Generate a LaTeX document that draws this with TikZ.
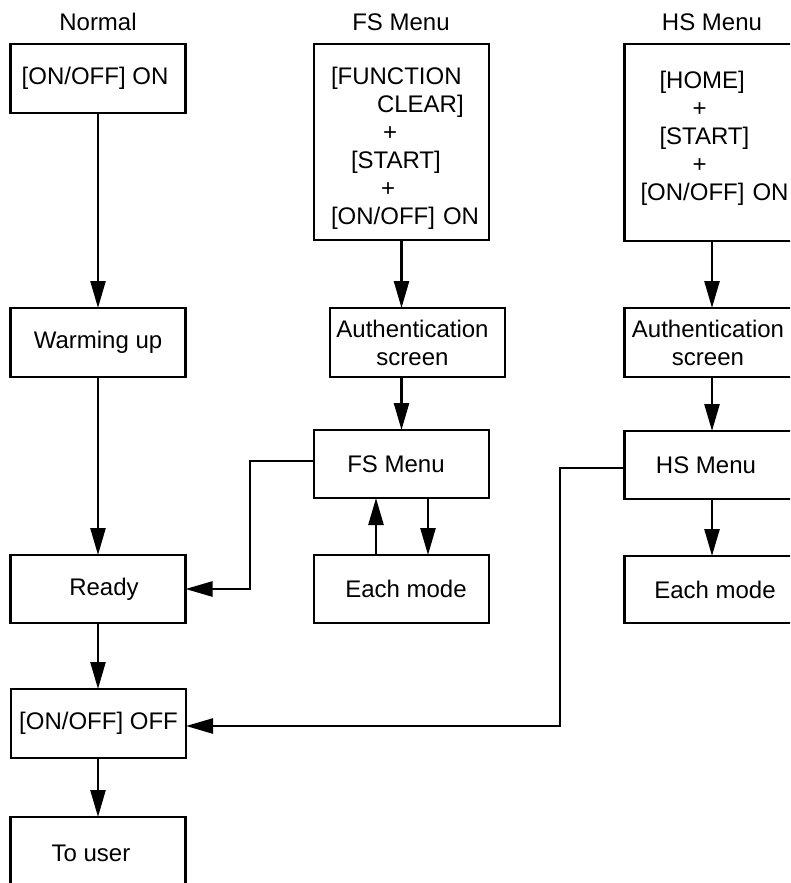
\documentclass[tikz,border=0pt]{standalone}
\usepackage{fontspec}
\setmainfont{Liberation Sans}
\usetikzlibrary{arrows.meta}
\begin{document}
\begin{tikzpicture}[x=1pt,y=-1pt,
  box/.style={draw, line width=2.5pt, inner sep=0pt, outer sep=0pt, minimum width=175pt, font=\fontsize{24}{28}\selectfont, align=center},
  txt/.style={inner sep=0pt, outer sep=0pt, text width=175pt, align=left, font=\fontsize{24}{28}\selectfont},
  lbl/.style={inner sep=0pt, font=\fontsize{24}{28}\selectfont},
  arr/.style={line width=2.5pt, -{Triangle[length=27pt,width=15pt]}}]
\useasboundingbox (0,0) rectangle (790,883);
\clip (0,0) rectangle (790,883);
% column labels
\node[lbl] (nlab) at (98,22) {Normal};
\node[lbl] (flab) at (401,22) {FS Menu};
\node[lbl] (hlab) at (712,22) {HS Menu};
% Normal column
\node[box, minimum height=69pt] (on) at (98,78.5) {[ON/OFF] ON\hspace*{6pt}};
\node[box, minimum height=69pt] (warm) at (98,342.5) {Warming up};
\node[box, minimum height=68pt] (ready) at (98,589) {\hspace*{12pt}Ready};
\node[box, minimum height=69pt] (off) at (98.5,723.5) {[ON/OFF] OFF};
\node[box, minimum height=72pt] (user) at (98,853) {To user\hspace*{14pt}};
% FS column
\node[box, minimum height=196pt] (fsbox) at (401.5,142) {};
\node[txt] (fstext) at (401.5,148) {\hspace*{17pt}[FUNCTION\\\hspace*{63pt}CLEAR]\\\hspace*{69pt}+\\\hspace*{37pt}[START]\\\hspace*{67pt}+\\\hspace*{17pt}[ON/OFF] ON};
\node[box, minimum height=69pt] (fsauth) at (417.5,342.5) {Authentication\hspace*{10pt}\\screen\hspace*{10pt}};
\node[box, minimum height=68pt] (fsmenu) at (401.5,464) {FS Menu\hspace*{11pt}};
\node[box, minimum height=68pt] (fsmode) at (401.5,589) {\hspace*{9pt}Each mode};
% HS column
\node[box, minimum height=197pt] (hsbox) at (712,142.5) {};
\node[txt] (hstext) at (712,138) {\hspace*{35pt}[HOME]\\\hspace*{68pt}+\\\hspace*{35pt}[START]\\\hspace*{68pt}+\\\hspace*{16pt}[ON/OFF] ON};
\node[box, minimum height=69pt] (hsauth) at (712,342.5) {Authentication\hspace*{8pt}\\screen\hspace*{8pt}};
\node[box, minimum height=68pt] (hsmenu) at (712,465) {HS Menu\hspace*{12pt}};
\node[box, minimum height=67pt] (hsmode) at (712,589.5) {\hspace*{6pt}Each mode};
% connectors
\draw[arr] (on.south) -- (warm.north);
\draw[arr] (warm.south) -- (ready.north);
\draw[arr] (ready.south) -- (ready.south |- off.north);
\draw[arr] (off.south -| ready.south) -- (user.north);
\draw[arr] (fsbox.south) -- (fsbox.south |- fsauth.north);
\draw[arr] (fsauth.south -| fsmenu.north) -- (fsmenu.north);
\draw[arr] ([xshift=26.5pt]fsmenu.south) -- ([xshift=26.5pt]fsmode.north);
\draw[arr] ([xshift=-25.5pt]fsmode.north) -- ([xshift=-25.5pt]fsmenu.south);
\coordinate (c1) at (250,461);
\coordinate (c2) at (250,589);
\draw[arr] (fsmenu.west |- c1) -- (c1) -- (c2) -- (ready.east);
\draw[arr] (hsbox.south) -- (hsauth.north);
\draw[arr] (hsauth.south) -- (hsmenu.north);
\draw[arr] (hsmenu.south) -- (hsmode.north);
\coordinate (c3) at (560,468);
\coordinate (c4) at (560,726);
\draw[arr] (hsmenu.west |- c3) -- (c3) -- (c4) -- (off.east |- c4);
\end{tikzpicture}
\end{document}
